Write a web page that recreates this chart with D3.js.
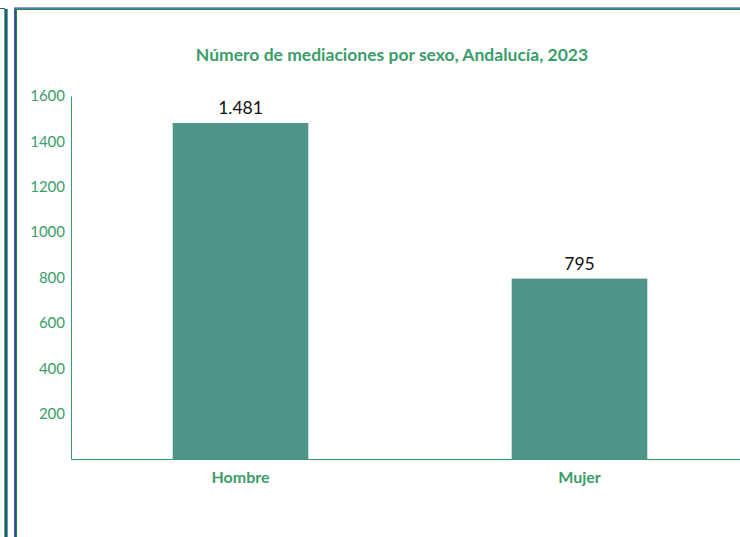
<!DOCTYPE html>
<html>
<head>
<meta charset="utf-8">
<script src="https://cdn.jsdelivr.net/npm/d3@7"></script>
<style>
  body { margin: 0; background: #fff; }
  svg { display: block; font-family: Lato, "Open Sans", sans-serif; }
</style>
</head>
<body>
<script>
// data
var categorias = ["Hombre", "Mujer"];
var valores = [1481, 795];
var etiquetas = ["1.481", "795"];
var ticksY = [200, 400, 600, 800, 1000, 1200, 1400, 1600];

var W = 740, H = 537;
var margin = {top: 96, left: 71, bottom: 78, right: -9};
var verde = "#3a9d6a", barra = "#4f9488";

var svg = d3.select("body").append("svg")
    .attr("width", W)
    .attr("height", H);

/*marcos*/
function linea(x1, y1, x2, y2, c, sw) {
  svg.append("line").attr("x1", x1).attr("y1", y1).attr("x2", x2).attr("y2", y2)
      .attr("stroke", c).attr("stroke-width", sw);
}
linea(4.5, 8, 4.5, H, "#4fb37a", 1);
linea(0, 8.5, 5, 8.5, "#2f4f93", 1);
linea(6, 9, 6, H, "#2f4f93", 2);
linea(7.5, 9, 7.5, H, "#4fb37a", 1);
linea(14.5, 7, 14.5, H, "#3f5aa0", 1);
linea(15.5, 9, 15.5, H, "#2f4f93", 1);
linea(16.5, 9, 16.5, H, "#1f8a45", 1);
linea(14, 7.5, W, 7.5, "#8a9ccc", 1);
linea(15, 8.5, W, 8.5, "#5a74b4", 1);
linea(15, 9.5, W, 9.5, "#1f8a45", 1);

/*Scales*/
var x = d3.scaleBand()
    .domain(categorias)
    .range([margin.left, W - margin.right]);
var y = d3.scaleLinear()
    .domain([0, 1600])
    .range([H - margin.bottom, margin.top]);

var bw = x.bandwidth() * 0.4;

/*Title*/
svg.append("text")
    .attr("x", 392)
    .attr("y", 61)
    .attr("text-anchor", "middle")
    .attr("fill", verde)
    .attr("font-weight", "bold")
    .attr("font-size", "17.5px")
    .text("Número de mediaciones por sexo, Andalucía, 2023");

/*Bars*/
svg.selectAll("rect.bar")
    .data(valores)
    .enter()
    .append("rect")
    .attr("class", "bar")
    .attr("x", function(d, i) { return x(categorias[i]) + (x.bandwidth() - bw) / 2; })
    .attr("y", function(d) { return y(d); })
    .attr("width", bw)
    .attr("height", function(d) { return y(0) - y(d); })
    .attr("fill", barra);

svg.selectAll("text.val")
    .data(valores)
    .enter()
    .append("text")
    .attr("class", "val")
    .attr("x", function(d, i) { return x(categorias[i]) + x.bandwidth() / 2; })
    .attr("y", function(d) { return y(d) - 9; })
    .attr("text-anchor", "middle")
    .attr("font-size", "17.5px")
    .attr("fill", "#111")
    .text(function(d, i) { return etiquetas[i]; });

/*Axes*/
var yAxis = d3.axisLeft(y).tickValues(ticksY).tickFormat(d3.format("d"))
    .tickSize(0).tickPadding(6);
var gy = svg.append("g")
    .attr("transform", "translate(" + margin.left + ",0)")
    .call(yAxis);
gy.select(".domain").attr("stroke", verde);
gy.selectAll("text").attr("fill", verde).attr("font-size", "15px")
    .attr("font-family", "Lato, 'Open Sans', sans-serif");

var xAxis = d3.axisBottom(x).tickSize(0).tickPadding(13);
var gx = svg.append("g")
    .attr("transform", "translate(0," + y(0) + ")")
    .call(xAxis);
gx.select(".domain").attr("stroke", verde);
gx.selectAll("text").attr("fill", verde).attr("font-size", "16px")
    .attr("font-weight", "bold")
    .attr("font-family", "Lato, 'Open Sans', sans-serif");
</script>
</body>
</html>
